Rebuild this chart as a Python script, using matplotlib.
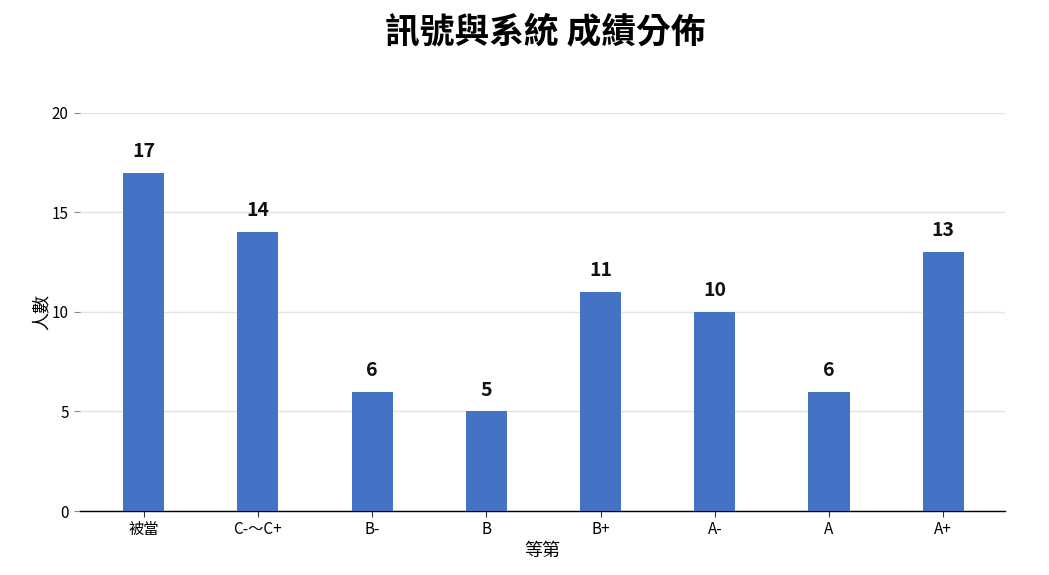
import matplotlib
matplotlib.use("Agg")
import matplotlib.pyplot as plt

plt.rcParams['font.family'] = ['Noto Sans CJK TC', 'DejaVu Sans']

categories = ["被當", "C-～C+", "B-", "B", "B+", "A-", "A", "A+"]
counts = [17, 14, 6, 5, 11, 10, 6, 13]
yticks = [0, 5, 10, 15, 20]

fig = plt.figure(figsize=(10.49, 5.75), dpi=100)
ax = fig.add_axes([0.076, 0.1113, 0.882, 0.6922])

x = list(range(len(categories)))
bars = ax.bar(x, counts, width=0.36, color="#4472C4", zorder=3)
for xi, v in zip(x, counts):
    ax.text(xi, v + 0.6, str(v), ha="center", va="bottom",
            fontsize=14, fontweight="bold", color="#111111")

ax.set_xlim(-0.56, 7.54)
ax.set_ylim(0, 20)
ax.set_yticks(yticks)
ax.set_xticks(x)
ax.set_xticklabels(categories, fontsize=11)
ax.tick_params(axis='y', labelsize=11, length=4, color="#888888", pad=4)
ax.tick_params(axis='x', length=4, color="#333333", pad=3)
ax.grid(axis='y', color="#e4e4e4", linewidth=1, zorder=0)
for s in ["top", "right", "left"]:
    ax.spines[s].set_visible(False)
ax.spines["bottom"].set_color("#000000")
ax.spines["bottom"].set_linewidth(1)

ax.set_xlabel("等第", fontsize=13, labelpad=3)
ax.set_ylabel("人數", fontsize=13, labelpad=1)
fig.suptitle("訊號與系統 成績分佈", fontsize=25, fontweight="bold",
             x=0.52, y=0.975)

fig.savefig("out.png", dpi=100)
